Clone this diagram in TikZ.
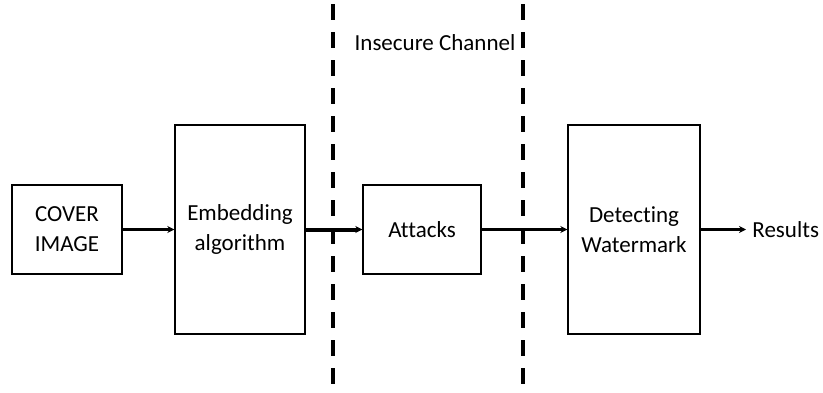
\documentclass[tikz,border=0pt]{standalone}
\usepackage{fontspec}
\setmainfont[Ligatures=NoCommon]{Carlito}
\usetikzlibrary{positioning,arrows.meta}

\begin{document}
\begin{tikzpicture}[%
            >={Stealth[length=3.5pt,width=3.5pt]},
            x=0.5pt, y=-0.5pt,
            on grid,
            auto,
            font=\fontsize{11.5}{15}\selectfont,
            block/.style={draw, line width=0.7pt, align=center, inner sep=0pt,
                          minimum height=44.5pt},
            tallblock/.style={block, minimum height=104.5pt},
            flow/.style={->, line width=1.4pt},
            border/.style={line width=1.6pt, dash pattern=on 8pt off 6pt}
            ]
            \useasboundingbox (0,0) rectangle (823,392);

            \node[block, minimum width=55pt] (cover) at (67,229.5) {COVER\\IMAGE};
            \node[tallblock, minimum width=65pt] (embed) [right=86.5pt of cover] {Embedding\\algorithm};
            \node[block, minimum width=59pt] (attacks) [right=91pt of embed] {Attacks};
            \node[tallblock, minimum width=66pt] (detect) [right=106pt of attacks] {Detecting\\Watermark};
            \node[anchor=west, inner sep=3pt] (results) at (746,229.5) {Results};

            % channel borders
            \coordinate (b1top) at (333,4);
            \coordinate (b1bot) at (333,392);
            \coordinate (b2top) at (523,4);
            \coordinate (b2bot) at (523,392);
            \draw[border] (b1top) -- (b1bot);
            \draw[border] (b2top) -- (b2bot);
            \node (channel) at (435,43) {Insecure Channel};

            \path[flow] (cover) edge (embed);
            \path[flow, line width=2pt] (embed) edge (attacks);
            \path[flow] (attacks) edge (detect);
            \path[flow] (detect) edge (results);

        \end{tikzpicture}
\end{document}
